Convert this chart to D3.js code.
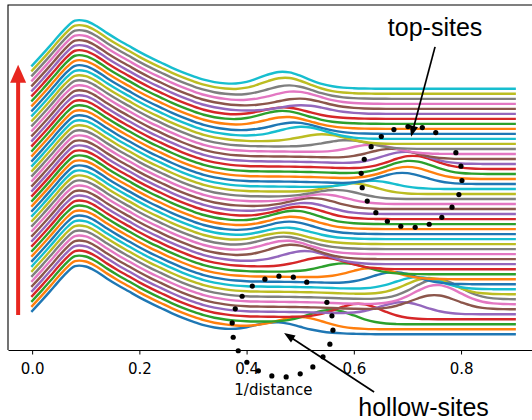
<!DOCTYPE html>
<html>
<head>
<meta charset="utf-8">
<script src="https://cdn.jsdelivr.net/npm/d3@7"></script>
<style>
  html, body { margin: 0; padding: 0; background: #fff; }
  svg { display: block; }
</style>
</head>
<body>
<svg id="chart" width="532" height="420"></svg>
<script>
// ---- data -------------------------------------------------------------
// 1/distance grid on which every profile is sampled
const xGrid = [0.00, 0.02, 0.04, 0.06, 0.08, 0.10, 0.12, 0.14, 0.16, 0.18,
               0.20, 0.22, 0.24, 0.26, 0.28, 0.30, 0.32, 0.34, 0.36, 0.38,
               0.40, 0.42, 0.44, 0.46, 0.48, 0.50, 0.52, 0.54, 0.56, 0.58,
               0.60, 0.62, 0.64, 0.66, 0.68, 0.70, 0.72, 0.74, 0.76, 0.78,
               0.80, 0.82, 0.84, 0.86, 0.88, 0.90];

// common part of every profile (first coordination shell)
const baseProfile = [23, 34.5, 46.5, 58.5, 67.3, 67.0, 62, 55, 48.5, 42.5,
                     36.5, 31, 26, 21, 16.5, 12.5, 9, 6.5, 4.8, 3.6,
                     3.0, 2.7, 2.5, 2.4, 2.3, 2.1, 1.9, 1.6, 1.2, 0.8,
                     0.5, 0.25, 0.1, 0, 0, 0, 0, 0, 0, 0,
                     0, 0, 0, 0, 0, 0];

// second peak of each frame (frame 0 at the bottom, 49 at the top)
const peakPos = [0.455, 0.50, 0.56, 0.61, 0.69, 0.75, 0.755, 0.755, 0.74, 0.72,
                 0.675, 0.635, 0.585, 0.545, 0.51, 0.485, 0.475, 0.47, 0.47, 0.475,
                 0.48, 0.485, 0.49, 0.50, 0.51, 0.525, 0.545, 0.57, 0.60, 0.635,
                 0.69, 0.70, 0.705, 0.71, 0.695, 0.67, 0.635, 0.59, 0.545, 0.505,
                 0.49, 0.475, 0.468, 0.47, 0.505, 0.50, 0.49, 0.48, 0.472, 0.468];
const peakHeight = [9.5, 10, 13, 15, 12, 14, 19, 20, 16, 12,
                    12, 11, 10, 10, 11, 12, 11, 10, 9, 9,
                    10, 10, 11, 10, 9, 9, 8, 8, 10, 8,
                    11, 12, 13, 13, 12, 10, 9, 8, 8, 10,
                    9, 9.5, 10.5, 9, 6.5, 8, 10, 11, 13.5, 14.5];
const peakWidth = 0.042;
const offsetStep = 4.95;

const xTicks = [0.0, 0.2, 0.4, 0.6, 0.8];
const xLabel = "1/distance";

// annotations, in data coordinates
const sites = [
  { label: "top-sites",    cx: 0.7077, cy: 155.5, r: 0.0942,
    textX: 0.7515, textY: 294.9, fromX: 0.7515, fromY: 284.0, toX: 0.7068, toY: 195.1 },
  { label: "hollow-sites", cx: 0.4671, cy: 7.7,   r: 0.0942,
    textX: 0.7301, textY: -80.7, fromX: 0.6378, fromY: -57.0, toX: 0.4699, toY: 1.3 }
];
const timeArrow = { x: -0.0261, from: 19.1, to: 266.2 };

// ---- build profiles ----------------------------------------------------
const profiles = peakPos.map((c, i) =>
  xGrid.map((x, k) => ({
    x,
    y: i * offsetStep + baseProfile[k] +
       peakHeight[i] * Math.exp(-((x - c) ** 2) / (2 * peakWidth * peakWidth))
  }))
);

// ---- layout / scales ---------------------------------------------------
const svg = d3.select("#chart");
const plot = { left: 8, right: 538.8, top: 5, bottom: 350 };

const xExt = d3.extent(xGrid);
const xPad = 0.05 * (xExt[1] - xExt[0]);
const x = d3.scaleLinear().domain([xExt[0] - xPad, xExt[1] + xPad])
  .range([plot.left, plot.right]);

const yExt = d3.extent(profiles.flat(), d => d.y);
const yPad = 0.05 * (yExt[1] - yExt[0]);
const y = d3.scaleLinear().domain([yExt[0] - yPad, yExt[1] + yPad])
  .range([plot.bottom, plot.top]);

const color = d3.scaleOrdinal(d3.schemeCategory10);

// ---- curves ------------------------------------------------------------
const line = d3.line().x(d => x(d.x)).y(d => y(d.y)).curve(d3.curveCatmullRom.alpha(0.5));
svg.append("g").selectAll("path").data(profiles).join("path")
  .attr("d", line)
  .attr("fill", "none")
  .attr("stroke", (d, i) => color(i % 10))
  .attr("stroke-width", 2.4)
  .attr("stroke-linecap", "square");

// ---- frame and axis ----------------------------------------------------
svg.append("path")
  .attr("d", `M${plot.left},${plot.bottom}V${plot.top}H${plot.right}`)
  .attr("fill", "none").attr("stroke", "#000").attr("stroke-width", 1.1);

const axis = svg.append("g")
  .attr("transform", `translate(0,${plot.bottom})`)
  .call(d3.axisBottom(x).tickValues(xTicks).tickFormat(d3.format(".1f"))
    .tickSize(4.5).tickSizeOuter(0).tickPadding(8.5));
axis.select(".domain").attr("stroke", "#000").attr("stroke-width", 1.1);
axis.selectAll(".tick line").attr("stroke", "#000").attr("stroke-width", 1);
axis.selectAll(".tick text")
  .attr("fill", "#000")
  .style("font-family", "'DejaVu Sans', sans-serif")
  .style("font-size", "15px");

svg.append("text")
  .attr("x", (plot.left + plot.right) / 2)
  .attr("y", 395)
  .attr("text-anchor", "middle")
  .style("font-family", "'DejaVu Sans', sans-serif")
  .style("font-size", "15px")
  .text(xLabel);

// ---- time arrow --------------------------------------------------------
{
  const ax = x(timeArrow.x), y0 = y(timeArrow.from), y1 = y(timeArrow.to);
  const headLen = 18, headHalf = 8;
  svg.append("line")
    .attr("x1", ax).attr("x2", ax).attr("y1", y0).attr("y2", y1 + headLen - 1)
    .attr("stroke", "#e8261f").attr("stroke-width", 4);
  svg.append("path")
    .attr("d", `M${ax},${y1}L${ax - headHalf},${y1 + headLen}L${ax + headHalf},${y1 + headLen}Z`)
    .attr("fill", "#e8261f");
}

// ---- site annotations --------------------------------------------------
const nSlots = 22;
sites.forEach(s => {
  const cx = x(s.cx), cy = y(s.cy), r = x(s.r) - x(0);
  const angles = d3.range(1, nSlots).map(k => (45 + k * 360 / nSlots) * Math.PI / 180);
  svg.append("g").selectAll("circle").data(angles).join("circle")
    .attr("cx", a => cx + r * Math.cos(a))
    .attr("cy", a => cy - r * Math.sin(a))
    .attr("r", 2.6)
    .attr("fill", "#000");

  const x0 = x(s.fromX), y0 = y(s.fromY), x1 = x(s.toX), y1 = y(s.toY);
  const len = Math.hypot(x1 - x0, y1 - y0);
  const ux = (x1 - x0) / len, uy = (y1 - y0) / len;
  const headLen = 11, headHalf = 4.2;
  const bx = x1 - ux * headLen, by = y1 - uy * headLen;
  svg.append("line")
    .attr("x1", x0).attr("y1", y0).attr("x2", bx + ux).attr("y2", by + uy)
    .attr("stroke", "#000").attr("stroke-width", 1.7);
  svg.append("path")
    .attr("d", `M${x1},${y1}L${bx - uy * headHalf},${by + ux * headHalf}L${bx + uy * headHalf},${by - ux * headHalf}Z`)
    .attr("fill", "#000");

  svg.append("text")
    .attr("x", x(s.textX)).attr("y", y(s.textY))
    .attr("text-anchor", "middle")
    .style("font-family", "'Liberation Sans', Arial, Helvetica, sans-serif")
    .style("font-size", "25px")
    .attr("fill", "#000")
    .text(s.label);
});
</script>
</body>
</html>
